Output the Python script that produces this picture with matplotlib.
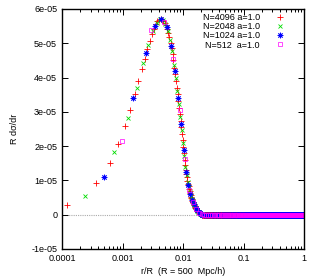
import numpy as np
import matplotlib
matplotlib.use("Agg")
import matplotlib.pyplot as plt
from matplotlib.ticker import FixedLocator, FixedFormatter, LogLocator, NullFormatter

plt.rcParams['font.family'] = ['Liberation Sans', 'DejaVu Sans']

# grid sizes of the four runs (bins are centred at (i+0.5)/N)
grid_n = [4096, 2048, 1024, 512]
labels = ["N=4096 a=1.0", "N=2048 a=1.0", "N=1024 a=1.0", "N=512  a=1.0"]

# R dsigma/dr in units of 1e-5 for the first bins; the rest are 0
vals_4096 = [0.27, 0.93, 1.51, 2.07, 2.59, 3.06, 3.52, 3.91, 4.24, 4.55,
             4.83, 5.06, 5.27, 5.43, 5.55, 5.64, 5.69, 5.71, 5.69, 5.65,
             5.60, 5.52, 5.42, 5.30, 5.17, 5.02, 4.86, 4.69, 4.52, 4.28,
             4.09, 3.90, 3.71, 3.51, 3.32, 3.12, 2.93, 2.74, 2.55, 2.36,
             2.17, 1.98, 1.79, 1.61, 1.45, 1.31, 1.20, 1.09, 0.99, 0.91,
             0.83, 0.76, 0.69, 0.63, 0.58, 0.53, 0.49, 0.45, 0.41, 0.38,
             0.35, 0.31, 0.28, 0.25, 0.23, 0.21, 0.19, 0.17, 0.15, 0.13,
             0.12, 0.10, 0.09, 0.08, 0.07, 0.06, 0.05, 0.04, 0.035, 0.03,
             0.025, 0.02, 0.015, 0.01, 0.005]
vals_2048 = [0.55, 1.82, 2.83, 3.71, 4.43, 4.95, 5.36, 5.60, 5.71, 5.68,
             5.57, 5.37, 5.10, 4.78, 4.38, 4.00, 3.61, 3.22, 2.84, 2.46,
             2.08, 1.70, 1.38, 1.15, 0.95, 0.80, 0.66, 0.55, 0.47, 0.40,
             0.33, 0.27, 0.22, 0.18, 0.14, 0.11, 0.085, 0.065, 0.045, 0.032,
             0.022, 0.012, 0.005]
vals_1024 = [1.09, 3.39, 4.72, 5.49, 5.71, 5.47, 4.93, 4.19, 3.41, 2.66,
             1.90, 1.25, 0.88, 0.60, 0.43, 0.30, 0.20, 0.125, 0.075, 0.04,
             0.017]
vals_512 = [2.15, 5.38, 5.63, 4.55, 3.05, 1.62, 0.72, 0.37, 0.16, 0.055, 0.01]
series_vals = [vals_4096, vals_2048, vals_1024, vals_512]

yticks = [-1e-05, 0, 1e-05, 2e-05, 3e-05, 4e-05, 5e-05, 6e-05]
ytick_labels = ["-1e-05", "0", "1e-05", "2e-05", "3e-05", "4e-05", "5e-05", "6e-05"]
xticks = [0.0001, 0.001, 0.01, 0.1, 1]
xtick_labels = ["0.0001", "0.001", "0.01", "0.1", "1"]

colors = ['#ff0000', '#00dd00', '#0000ff', '#ff00ff']

fig = plt.figure(figsize=(3.12, 2.77), dpi=100)
ax = fig.add_axes([62 / 312, 1 - 249 / 277, 242 / 312, 240 / 277])

ax.axhline(0, color='#aaaaaa', lw=0.8, ls=(0, (1, 1)), zorder=0)

styles = [
    dict(marker='+', ms=4, mew=0.6, mfc='none'),
    dict(marker='x', ms=3.2, mew=0.6, mfc='none'),
    dict(marker=(8, 2, 0), ms=4, mew=0.6, mfc='none'),
    dict(marker='s', ms=3.4, mew=0.5, mfc='none'),
]
for n, v, lab, c, st in zip(grid_n, series_vals, labels, colors, styles):
    r = (np.arange(n) + 0.5) / n
    y = np.zeros(n)
    y[:len(v)] = np.array(v) * 1e-5
    ax.plot(r, y, ls='none', color=c, mec=c, label=lab, **st)

ax.set_xscale('log')
ax.set_xlim(0.0001, 1)
ax.set_ylim(-1e-05, 6e-05)
ax.xaxis.set_major_locator(FixedLocator(xticks))
ax.xaxis.set_major_formatter(FixedFormatter(xtick_labels))
ax.xaxis.set_minor_locator(LogLocator(base=10, subs=np.arange(2, 10)))
ax.xaxis.set_minor_formatter(NullFormatter())
ax.yaxis.set_major_locator(FixedLocator(yticks))
ax.yaxis.set_major_formatter(FixedFormatter(ytick_labels))

ax.tick_params(which='both', direction='in', top=True, right=True,
               labelsize=6.5, width=0.7, colors='black')
ax.tick_params(which='major', length=4)
ax.tick_params(which='minor', length=2.2)
ax.tick_params(axis='y', pad=3.5)
ax.tick_params(axis='x', pad=3.5)
for s in ax.spines.values():
    s.set_linewidth(1.0)

ax.set_xlabel("r/R  (R = 500  Mpc/h)", fontsize=6.5, labelpad=3)
ax.set_ylabel("R dσ/dr", fontsize=6.5, labelpad=9)

leg = ax.legend(loc='upper right', bbox_to_anchor=(0.935, 1.0), frameon=False,
                markerfirst=False, fontsize=6.5, handlelength=1.0,
                handletextpad=1.7, labelspacing=0.02, borderaxespad=0.25,
                borderpad=0.2)

fig.savefig("out.png", dpi=100)
